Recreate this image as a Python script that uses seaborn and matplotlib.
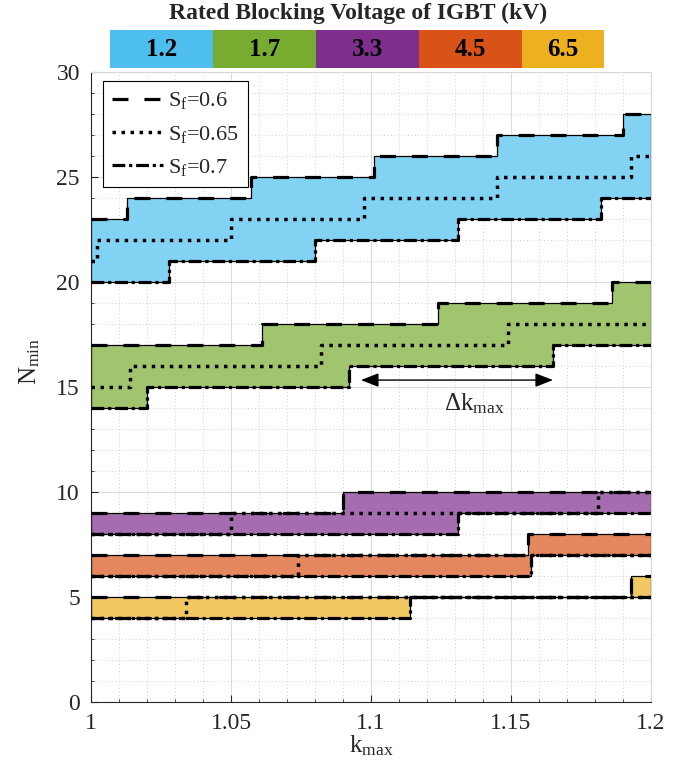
import numpy as np
import pandas as pd
import matplotlib
matplotlib.use("Agg")
import matplotlib.pyplot as plt
import seaborn as sns
from matplotlib.lines import Line2D
from matplotlib.ticker import MultipleLocator
from matplotlib.colors import ListedColormap, to_rgb

# ---------------- data ----------------
voltages = ["1.2", "1.7", "3.3", "4.5", "6.5"]
band_colors = ["#4DBEEE", "#77AC30", "#7E2F8E", "#D95319", "#EDB120"]
sf_labels = ["S$_f$=0.6", "S$_f$=0.65", "S$_f$=0.7"]

# step start positions (k_max) and N_min values, Sf = 0.6
k_sf060 = {
    "1.2": [1.000, 1.013, 1.057, 1.101, 1.145, 1.190],
    "1.7": [1.000, 1.061, 1.124, 1.186],
    "3.3": [1.000, 1.090],
    "4.5": [1.000, 1.156],
    "6.5": [1.000, 1.193],
}
n_sf060 = {
    "1.2": [23, 24, 25, 26, 27, 28],
    "1.7": [17, 18, 19, 20],
    "3.3": [9, 10],
    "4.5": [7, 8],
    "6.5": [5, 6],
}
# Sf = 0.65
k_sf065 = {
    "1.2": [1.000, 1.002, 1.050, 1.0975, 1.145, 1.193],
    "1.7": [1.000, 1.014, 1.082, 1.149],
    "3.3": [1.000, 1.050, 1.181],
    "4.5": [1.000, 1.074],
    "6.5": [1.000, 1.034],
}
n_sf065 = {
    "1.2": [21, 22, 23, 24, 25, 26],
    "1.7": [15, 16, 17, 18],
    "3.3": [8, 9, 10],
    "4.5": [6, 7],
    "6.5": [4, 5],
}
# Sf = 0.7
k_sf070 = {
    "1.2": [1.000, 1.028, 1.080, 1.131, 1.182],
    "1.7": [1.000, 1.020, 1.092, 1.165],
    "3.3": [1.000, 1.131],
    "4.5": [1.000, 1.157],
    "6.5": [1.000, 1.114],
}
n_sf070 = {
    "1.2": [20, 21, 22, 23, 24],
    "1.7": [14, 15, 16, 17],
    "3.3": [8, 9],
    "4.5": [6, 7],
    "6.5": [4, 5],
}
k_end = 1.2
arrow_k = [1.0964, 1.165]
arrow_n = 15.33
x_ticks = [1, 1.05, 1.1, 1.15, 1.2]
x_ticklabels = ["1", "1.05", "1.1", "1.15", "1.2"]
y_ticks = [0, 5, 10, 15, 20, 25, 30]

# ---------------- style ----------------
sns.set_theme(style="white")
plt.rcParams["font.family"] = ["Liberation Serif", "DejaVu Serif"]
plt.rcParams["mathtext.fontset"] = "custom"
plt.rcParams["mathtext.rm"] = "Liberation Serif"
plt.rcParams["mathtext.it"] = "Liberation Serif:italic"
plt.rcParams["mathtext.default"] = "regular"

W, H = 689, 781
fig = plt.figure(figsize=(W / 100, H / 100), dpi=100)
ax = fig.add_axes([91 / W, 1 - 702 / H, 560 / W, 630 / H])

line_styles = [
    dict(ls=(0, (5, 5)), lw=2.3),
    dict(ls=(0, (1, 1.6)), lw=2.5),
    dict(ls=(0, (4, 1.2, 1, 1.2)), lw=2.3),
]


def step_values(ks, ns, xs):
    ks = np.asarray(ks)
    ns = np.asarray(ns)
    idx = np.searchsorted(ks, xs, side="right") - 1
    return ns[idx]


for v, col in zip(voltages, band_colors):
    rgb = np.array(to_rgb(col))
    light = 0.7 * rgb + 0.3
    xs = np.array(sorted(set(k_sf060[v]) | set(k_sf070[v]) | {k_end}))
    up = step_values(k_sf060[v], n_sf060[v], xs)
    lo = step_values(k_sf070[v], n_sf070[v], xs)
    ax.fill_between(xs, lo, up, step="post", facecolor=light,
                    edgecolor="black", linewidth=0.9, zorder=2)
    for (kd, nd), st in zip([(k_sf060, n_sf060), (k_sf065, n_sf065), (k_sf070, n_sf070)], line_styles):
        kk = list(kd[v]) + [k_end]
        nn = list(nd[v]) + [nd[v][-1]]
        df = pd.DataFrame({"k": kk, "n": nn})
        sns.lineplot(data=df, x="k", y="n", ax=ax, estimator=None, sort=False,
                     drawstyle="steps-post", color="black", zorder=3,
                     dash_capstyle="butt", **st)

# arrow and label
ax.annotate("", xy=(arrow_k[1], arrow_n), xytext=(arrow_k[0], arrow_n),
            arrowprops=dict(arrowstyle="<|-|>,head_length=0.9,head_width=0.35",
                            color="black", lw=1.0, shrinkA=0, shrinkB=0), zorder=4)
ax.text(1.137, 14.2, r"$\Delta$k$_{max}$", ha="center", va="center", fontsize=18)

# axes formatting
ax.set_xlim(1, 1.2)
ax.set_ylim(0, 30)
ax.set_xticks(x_ticks)
ax.set_xticklabels(x_ticklabels)
ax.set_yticks(y_ticks)
ax.xaxis.set_minor_locator(MultipleLocator(0.01))
ax.yaxis.set_minor_locator(MultipleLocator(1))
ax.grid(which="major", color="#dcdcdc", lw=0.8, ls="-", zorder=0)
ax.grid(which="minor", color="#cfcfcf", lw=0.7, ls=(0, (1, 2.5)), zorder=0)
ax.set_axisbelow(True)
ax.tick_params(which="both", direction="in", colors="#262626", labelsize=17,
               left=True, bottom=True, top=False, right=False)
ax.tick_params(which="major", length=5, width=0.8, pad=8)
ax.tick_params(which="minor", length=2.5, width=0.6)
for s in ["left", "bottom"]:
    ax.spines[s].set_color("#262626")
    ax.spines[s].set_linewidth(0.8)
for s in ["top", "right"]:
    ax.spines[s].set_color("#d8d8d8")
    ax.spines[s].set_linewidth(0.8)

ax.set_xlabel("k$_{max}$", fontsize=18, color="#262626")
ax.xaxis.set_label_coords(0.5, -0.05)
ax.set_ylabel("N$_{min}$", fontsize=18, color="#262626")
ax.yaxis.set_label_coords(-0.088, 0.54)

# legend
handles = [Line2D([0], [0], color="black", dash_capstyle="butt", **st) for st in line_styles]
leg = ax.legend(handles, sf_labels, loc="upper left", bbox_to_anchor=(0.021, 0.985),
                borderaxespad=0, fontsize=16, handlelength=2.3, handletextpad=0.25,
                labelspacing=0.55, borderpad=0.4, fancybox=False, framealpha=1,
                edgecolor="black")
leg.get_frame().set_linewidth(0.8)
leg.set_zorder(10)

# top color legend (voltage classes)
cax = fig.add_axes([110 / W, 1 - 68 / H, 494 / W, 38 / H])
sns.heatmap(np.arange(len(voltages)).reshape(1, -1), ax=cax,
            cmap=ListedColormap(band_colors), cbar=False,
            annot=np.array([voltages]), fmt="",
            annot_kws=dict(fontsize=18, fontweight="bold", color="black"),
            xticklabels=False, yticklabels=False)
cax.set_xlim(0, 4.8)
cax.texts[-1].set_x(4.4)
cax.set_axis_off()
fig.text(358 / W, 1 - 13 / H, "Rated Blocking Voltage of IGBT (kV)",
         ha="center", va="center", fontsize=17, fontweight="bold")

fig.savefig("out.png", dpi=100)
